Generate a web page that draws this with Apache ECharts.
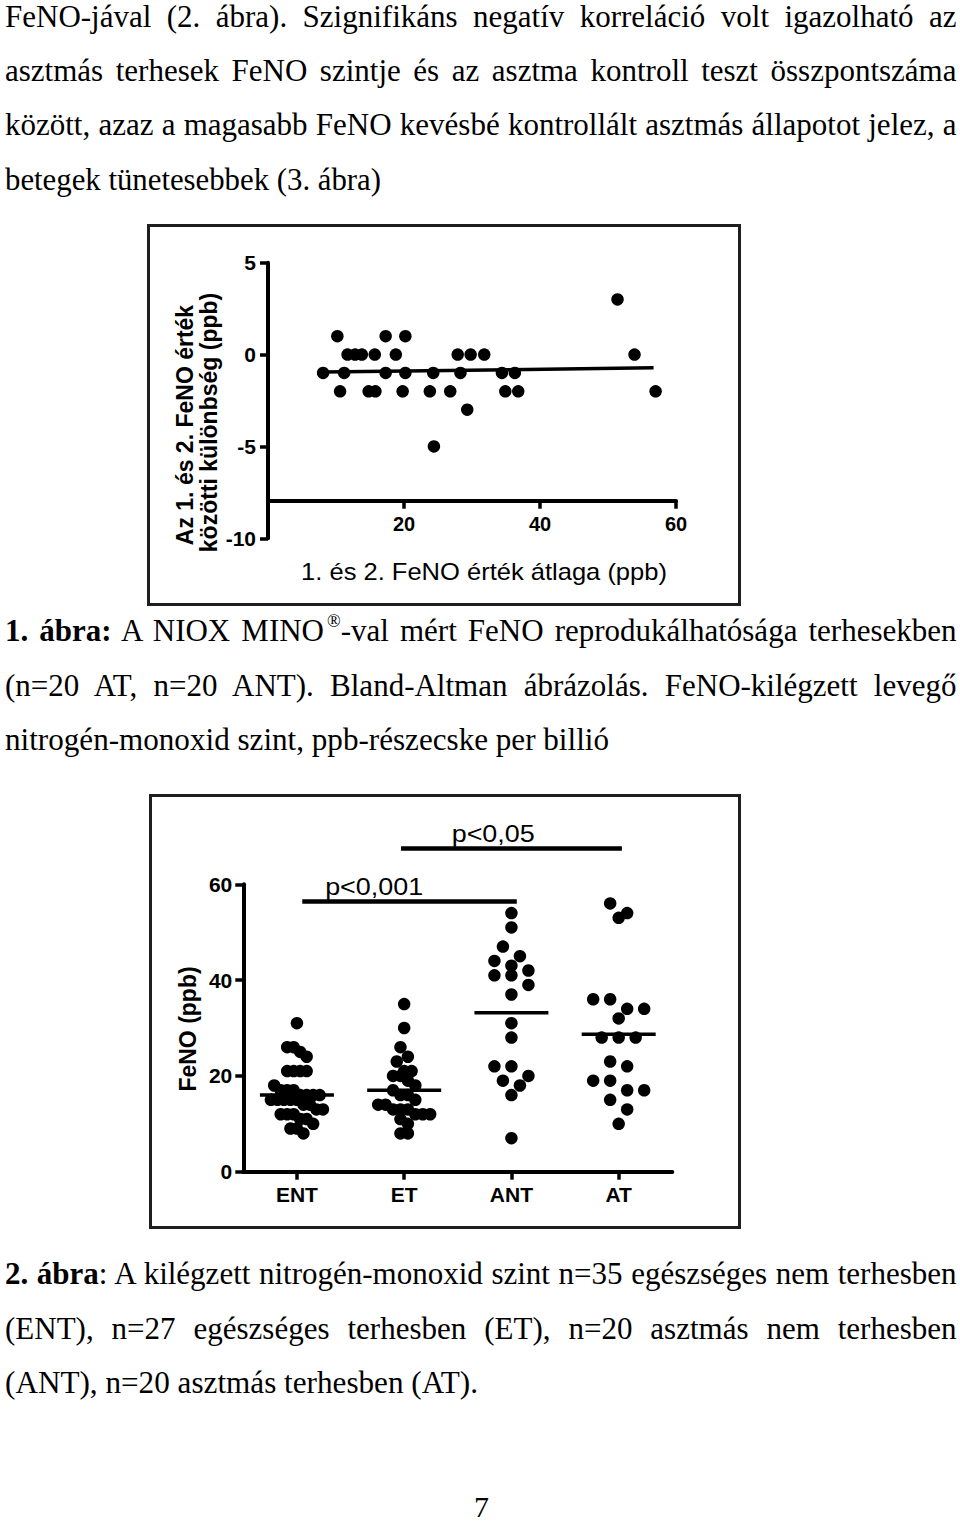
<!DOCTYPE html>
<html>
<head>
<meta charset="utf-8">
<script src="https://cdn.jsdelivr.net/npm/echarts@6/dist/echarts.min.js"></script>
<style>
html,body{margin:0;padding:0;background:#fff;}
#page{position:relative;width:960px;height:1524px;overflow:hidden;background:#fff;}
.ln{position:absolute;left:5px;font-family:"Liberation Serif","Times New Roman",Times,serif;font-size:31px;line-height:31px;white-space:nowrap;color:#000;transform-origin:0 0;}
.ln sup{font-size:18px;vertical-align:0;position:relative;top:-14px;margin-left:3px;}
.frame{position:absolute;border:3px solid #1e1e1e;box-sizing:border-box;}
#chart{position:absolute;left:0;top:0;width:960px;height:1524px;}
</style>
</head>
<body>
<div id="page">
  <div class="ln" data-b="27" data-w="951.5" data-j="1">FeNO-jával (2. ábra). Szignifikáns negatív korreláció volt igazolható az</div>
  <div class="ln" data-b="81" data-w="951.5" data-j="1">asztmás terhesek FeNO szintje és az asztma kontroll teszt összpontszáma</div>
  <div class="ln" data-b="135" data-w="951.5" data-j="1">között, azaz a magasabb FeNO kevésbé kontrollált asztmás állapotot jelez, a</div>
  <div class="ln" data-b="189.5" data-w="376">betegek tünetesebbek (3. ábra)</div>

  <div class="frame" style="left:147px;top:224px;width:594px;height:382px;"></div>
  <div class="frame" style="left:149px;top:794px;width:592px;height:435px;"></div>

  <div class="ln" data-b="641" data-w="951.5" data-j="1"><b>1. ábra:</b> A NIOX MINO<sup>®</sup>-val mért FeNO reprodukálhatósága terhesekben</div>
  <div class="ln" data-b="695.5" data-w="951.5" data-j="1">(n=20 AT, n=20 ANT). Bland-Altman ábrázolás. FeNO-kilégzett levegő</div>
  <div class="ln" data-b="749.5" data-w="604">nitrogén-monoxid szint, ppb-részecske per billió</div>

  <div class="ln" data-b="1283.5" data-w="951.5" data-j="1"><b>2. ábra</b>: A kilégzett nitrogén-monoxid szint n=35 egészséges nem terhesben</div>
  <div class="ln" data-b="1338.5" data-w="951.5" data-j="1">(ENT), n=27 egészséges terhesben (ET), n=20 asztmás nem terhesben</div>
  <div class="ln" data-b="1393" data-w="473">(ANT), n=20 asztmás terhesben (AT).</div>

  <div id="pagenum" style="position:absolute;left:474px;top:1492px;font-family:'Liberation Serif','Times New Roman',serif;font-size:30px;line-height:30px;color:#000;">7</div>

  <div id="chart"></div>
</div>
<script>
// ---------- Figure 1: Bland-Altman data ----------
const baAverage = [10.2, 17.3, 20.2, 51.4,
  11.7, 12.8, 13.8, 15.7, 18.8, 27.9, 29.8, 31.8, 53.9,
  8.1, 11.2, 17.3, 20.2, 24.3, 28.3, 34.4, 36.3,
  10.6, 14.8, 15.8, 19.8, 23.8, 26.8, 34.9, 36.8, 57.0,
  29.3, 24.4];
const baDifference = [1, 1, 1, 3,
  0, 0, 0, 0, 0, 0, 0, 0, 0,
  -1, -1, -1, -1, -1, -1, -1, -1,
  -2, -2, -2, -2, -2, -2, -2, -2, -2,
  -3, -5];
const baFitX = [8.1, 56.7];
const baFitY = [-0.95, -0.72];

// ---------- Figure 2: FeNO by group ----------
const groups = ['ENT', 'ET', 'ANT', 'AT'];
const ENT = [31, 26, 26, 25, 24, 21, 21, 21, 21, 18, 17, 17, 17, 16, 16, 16, 16, 15, 15, 15, 15, 15, 14, 14, 13, 13, 12, 12, 12, 11, 11, 10, 9, 9, 8];
const ET  = [35, 30, 26, 24, 23, 21, 21, 20, 20, 19, 18, 17, 16, 16, 15, 14, 14, 13, 13, 13, 12, 12, 12, 11, 10, 8, 8];
const ANT = [54, 51, 47, 45, 44, 43, 42, 41, 41, 39, 37, 31, 28, 22, 22, 20, 19, 18, 16, 7];
const AT  = [56, 54, 53, 36, 36, 34, 34, 32, 28, 28, 28, 23, 22, 19, 19, 17, 17, 15, 13, 10];
const groupMeans = [16.0, 17.0, 33.2, 28.7];
const sigFrom = [1.05, 1.97];
const sigTo = [3.05, 4.03];
const sigLevel = [56.4, 67.5];
const sigLabelAt = [1.72, 2.83];
const sigText = ['p<0,001', 'p<0,05'];

// ---------- text line fitting ----------
document.querySelectorAll('.ln').forEach(el => {
  const b = +el.dataset.b;
  el.style.top = (b - 26) + 'px';
  if (!el.dataset.w) return;
  const w = +el.dataset.w;
  const nat = el.getBoundingClientRect().width;
  const spaces = (el.textContent.match(/ /g) || []).length;
  if (el.dataset.j === '1' && nat < w && spaces) {
    el.style.wordSpacing = ((w - nat) / spaces) + 'px';
  } else if (Math.abs(nat - w) > 0.5) {
    el.style.transform = 'scaleX(' + (w / nat) + ')';
  }
});

// ---------- chart ----------
const SANS = '"Liberation Sans", Arial, Helvetica, sans-serif';
const G1 = {left: 268, top: 262.7, width: 408, height: 275.6};
const G2 = {left: 243.3, top: 884.3, width: 429, height: 287.4};
const AXIS = {color: '#000', width: 4};
const TICK = {color: '#000', width: 3.5};

// Prism-like column scatter layout (computed, not typed)
function columnScatter(values, center) {
  const pxPerUnit = G2.height / 60;
  const bandPx = G2.width / groups.length;
  const binUnits = 10.5 / pxPerUnit;
  const sorted = values.slice().sort((a, b) => b - a);
  const rows = [];
  let cur = null;
  sorted.forEach(v => {
    if (cur && cur.start - v < binUnits) cur.items.push(v);
    else { cur = {start: v, items: [v]}; rows.push(cur); }
  });
  const maxRow = Math.max.apply(null, rows.map(r => r.items.length));
  const step = maxRow > 1 ? Math.min(17, 52 / (maxRow - 1)) : 0;
  const pts = [];
  rows.forEach(r => {
    const k = r.items.length;
    r.items.forEach((v, i) => pts.push([center + ((i - (k - 1) / 2) * step) / bandPx, v]));
  });
  return pts;
}
const swarmPts = [ENT, ET, ANT, AT].reduce((acc, vals, gi) => acc.concat(columnScatter(vals, gi + 1)), []);

const chart = echarts.init(document.getElementById('chart'), null, {renderer: 'svg', width: 960, height: 1524});

const DOT = {color: '#000', opacity: 1, borderWidth: 0};
const option = {
  animation: false,
  backgroundColor: 'transparent',
  grid: [
    Object.assign({containLabel: false, outerBoundsMode: 'none'}, G1),
    Object.assign({containLabel: false, outerBoundsMode: 'none'}, G2)
  ],
  xAxis: [
    {
      gridIndex: 0, type: 'value', min: 0, max: 60, interval: 20, offset: -37.6,
      axisLine: {show: true, onZero: false, lineStyle: AXIS},
      axisTick: {show: true, length: 8, lineStyle: TICK},
      axisLabel: {show: true, showMinLabel: false, color: '#000', fontFamily: SANS, fontWeight: 'bold', fontSize: 20, margin: 13},
      splitLine: {show: false}
    },
    {
      gridIndex: 1, type: 'category', data: groups, boundaryGap: true, position: 'bottom',
      axisLine: {show: true, onZero: false, lineStyle: AXIS},
      axisTick: {show: true, alignWithLabel: true, length: 8, lineStyle: TICK},
      axisLabel: {show: true, color: '#000', fontFamily: SANS, fontWeight: 'bold', fontSize: 21, margin: 12},
      splitLine: {show: false}
    },
    {gridIndex: 1, type: 'value', min: 0.5, max: 4.5, show: false, splitLine: {show: false}}
  ],
  yAxis: [
    {
      gridIndex: 0, type: 'value', min: -10, max: 5, interval: 5,
      axisLine: {show: true, onZero: false, lineStyle: AXIS},
      axisTick: {show: true, length: 8, lineStyle: TICK},
      axisLabel: {show: true, color: '#000', fontFamily: SANS, fontWeight: 'bold', fontSize: 21, margin: 12},
      splitLine: {show: false}
    },
    {
      gridIndex: 1, type: 'value', min: 0, max: 60, interval: 20,
      axisLine: {show: true, onZero: false, lineStyle: AXIS},
      axisTick: {show: true, length: 8, lineStyle: TICK},
      axisLabel: {show: true, color: '#000', fontFamily: SANS, fontWeight: 'bold', fontSize: 21, margin: 11},
      splitLine: {show: false}
    }
  ],
  series: [
    {
      type: 'scatter', xAxisIndex: 0, yAxisIndex: 0,
      data: baAverage.map((x, i) => [x, baDifference[i]]),
      symbol: 'circle', symbolSize: 12.5, itemStyle: DOT, emphasis: {disabled: true}, z: 3
    },
    {
      type: 'line', xAxisIndex: 0, yAxisIndex: 0,
      data: baFitX.map((x, i) => [x, baFitY[i]]),
      symbol: 'none', lineStyle: {color: '#000', width: 3.5, opacity: 1}, z: 2
    },
    {
      type: 'scatter', xAxisIndex: 2, yAxisIndex: 1,
      data: swarmPts,
      symbol: 'circle', symbolSize: 12.5, itemStyle: DOT, emphasis: {disabled: true}, z: 3
    },
    {
      type: 'custom', xAxisIndex: 2, yAxisIndex: 1, clip: false, z: 4,
      data: groupMeans.map((m, i) => [i + 1, m]),
      renderItem: function (params, api) {
        const x = api.value(0), m = api.value(1);
        const p1 = api.coord([x - 0.345, m]);
        const p2 = api.coord([x + 0.345, m]);
        return {type: 'line', shape: {x1: p1[0], y1: p1[1], x2: p2[0], y2: p2[1]},
          style: {stroke: '#000', lineWidth: 3.5}};
      }
    },
    {
      type: 'custom', xAxisIndex: 2, yAxisIndex: 1, clip: false, z: 4,
      data: sigLevel.map((lv, i) => [sigFrom[i], lv, sigTo[i], sigLabelAt[i], i]),
      renderItem: function (params, api) {
        const i = api.value(4);
        const lv = api.value(1);
        const a = api.coord([api.value(0), lv]);
        const b = api.coord([api.value(2), lv]);
        const t = api.coord([api.value(3), lv]);
        return {
          type: 'group',
          children: [
            {type: 'line', shape: {x1: a[0], y1: a[1], x2: b[0], y2: b[1]}, style: {stroke: '#000', lineWidth: 4.5}},
            {type: 'text', x: t[0], y: t[1] - 14.5, scaleX: 1.17,
              style: {text: sigText[i], fill: '#000', font: '23px ' + SANS,
                align: 'center', verticalAlign: 'middle', textAlign: 'center', textVerticalAlign: 'middle'}}
          ]
        };
      }
    }
  ],
  graphic: [
    {type: 'text', x: 185, y: 425, rotation: Math.PI / 2,
      style: {text: 'Az 1. és 2. FeNO érték', fill: '#000', font: 'bold 23px ' + SANS,
        align: 'center', verticalAlign: 'middle', textAlign: 'center', textVerticalAlign: 'middle'}},
    {type: 'text', x: 208.5, y: 422.5, rotation: Math.PI / 2,
      style: {text: 'közötti különbség (ppb)', fill: '#000', font: 'bold 23px ' + SANS,
        align: 'center', verticalAlign: 'middle', textAlign: 'center', textVerticalAlign: 'middle'}},
    {type: 'text', x: 484, y: 571.5, scaleX: 1.11,
      style: {text: '1. és 2. FeNO érték átlaga (ppb)', fill: '#000', font: '23px ' + SANS,
        align: 'center', verticalAlign: 'middle', textAlign: 'center', textVerticalAlign: 'middle'}},
    {type: 'text', x: 188, y: 1029, rotation: Math.PI / 2,
      style: {text: 'FeNO (ppb)', fill: '#000', font: 'bold 23px ' + SANS,
        align: 'center', verticalAlign: 'middle', textAlign: 'center', textVerticalAlign: 'middle'}}
  ]
};
chart.setOption(option);
</script>
</body>
</html>
